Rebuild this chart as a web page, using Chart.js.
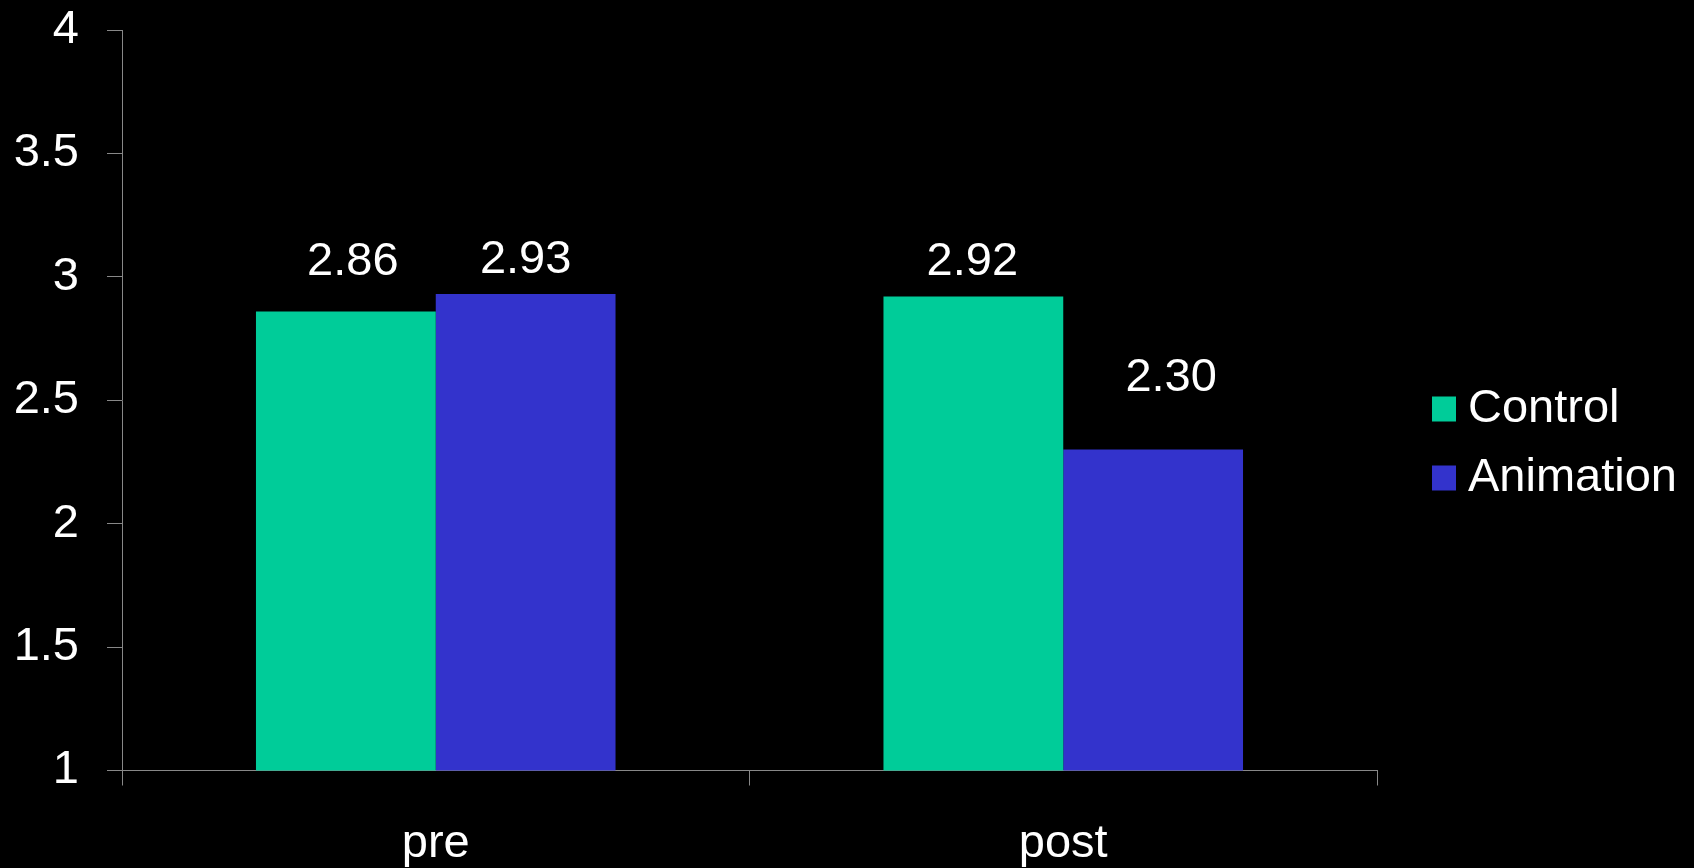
<!DOCTYPE html>
<html>
<head>
<meta charset="utf-8">
<script src="https://cdn.jsdelivr.net/npm/chart.js@4.4.1/dist/chart.umd.min.js"></script>
<style>
  html, body { margin: 0; padding: 0; background: #000; }
  #wrap { width: 1694px; height: 868px; }
</style>
</head>
<body>
<div id="wrap"><canvas id="myChart"></canvas></div>
<script>
var categories = ['pre', 'post'];
var controlValues = [2.86, 2.92];
var animationValues = [2.93, 2.30];
var seriesNames = ['Control', 'Animation'];
var seriesColors = ['#00CC99', '#3333CC'];

var FONT = '"Liberation Sans", Arial, sans-serif';
var FONT_SIZE = 47;

// hand-placed label nudges per bar: [dx, gap above bar top]
var labelNudge = [
    [[7, 36], [-1, 22]],
    [[0, 21], [18, 59]]
];

var valueLabels = {
    id: 'valueLabels',
    afterDatasetsDraw: function (chart) {
        var ctx = chart.ctx;
        ctx.save();
        ctx.font = FONT_SIZE + 'px ' + FONT;
        ctx.fillStyle = '#fff';
        ctx.textAlign = 'center';
        ctx.textBaseline = 'alphabetic';
        chart.data.datasets.forEach(function (ds, i) {
            chart.getDatasetMeta(i).data.forEach(function (bar, j) {
                var n = labelNudge[i][j];
                ctx.fillText(ds.data[j].toFixed(2), bar.x + n[0], bar.y - n[1]);
            });
        });
        ctx.restore();
    }
};

// legend on the right, square swatches
var sideLegend = {
    id: 'sideLegend',
    afterDraw: function (chart) {
        var ctx = chart.ctx;
        var x = chart.chartArea.right + 55;
        var y0 = chart.height / 2 + 9 - 34.5;
        ctx.save();
        ctx.font = FONT_SIZE + 'px ' + FONT;
        ctx.textBaseline = 'middle';
        ctx.textAlign = 'left';
        chart.data.datasets.forEach(function (ds, i) {
            var cy = y0 + i * 69;
            ctx.fillStyle = ds.backgroundColor;
            ctx.fillRect(x, cy - 12, 24, 25);
            ctx.fillStyle = '#fff';
            ctx.fillText(ds.label, x + 36, cy + 1);
        });
        ctx.restore();
    }
};

var ctx = document.getElementById('myChart').getContext('2d');
var chart = new Chart(ctx, {
    type: 'bar',
    data: {
        labels: categories,
        datasets: [{
            label: seriesNames[0],
            backgroundColor: seriesColors[0],
            data: controlValues
        }, {
            label: seriesNames[1],
            backgroundColor: seriesColors[1],
            data: animationValues
        }]
    },
    options: {
        responsive: true,
        maintainAspectRatio: false,
        animation: false,
        layout: { padding: { left: 14, right: 317, top: 0, bottom: 0 } },
        datasets: {
            bar: { categoryPercentage: 0.573, barPercentage: 1 }
        },
        plugins: {
            legend: { display: false },
            tooltip: { enabled: false }
        },
        scales: {
            x: {
                grid: {
                    drawOnChartArea: false,
                    color: '#888',
                    tickLength: 15,
                    offset: true
                },
                border: { color: '#888', width: 1 },
                ticks: {
                    color: '#fff',
                    padding: 30,
                    font: { family: FONT, size: FONT_SIZE, lineHeight: 1.2 }
                },
                afterFit: function (scale) {
                    scale.height = 97.5;
                }
            },
            y: {
                min: 1,
                max: 4,
                grid: {
                    drawOnChartArea: false,
                    color: '#888',
                    tickLength: 15
                },
                border: { color: '#888', width: 1 },
                ticks: {
                    stepSize: 0.5,
                    color: '#fff',
                    padding: 28,
                    font: { family: FONT, size: FONT_SIZE, lineHeight: 1.2 },
                    callback: function (v) { return String(v); }
                },
                afterFit: function (scale) {
                    scale.width = 108;
                    scale.paddingTop = 30;
                    scale.paddingBottom = 0;
                }
            }
        }
    },
    plugins: [valueLabels, sideLegend]
});
</script>
</body>
</html>
